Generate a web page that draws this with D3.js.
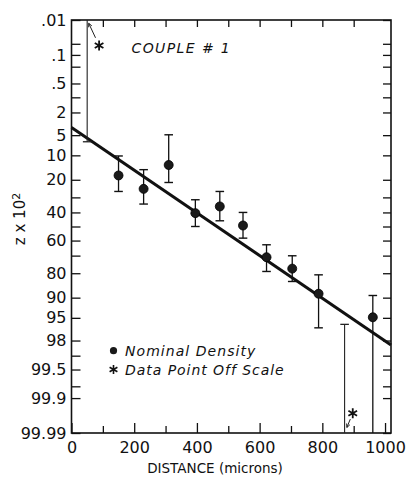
<!DOCTYPE html>
<html>
<head>
<meta charset="utf-8">
<script src="https://cdn.jsdelivr.net/npm/d3@7/dist/d3.min.js"></script>
<style>
  html, body { margin: 0; padding: 0; background: #fff; }
  svg { display: block; }
  text { font-family: "DejaVu Sans", sans-serif; fill: #111; }
</style>
</head>
<body>
<svg id="chart" width="407" height="477"></svg>
<script>
// ---------------- data ----------------
const distances   = [150, 230, 310, 395, 473, 547, 622, 704, 788, 961];
const nominalPct  = [17.9, 24.9, 13.4, 40.5, 35.9, 49.3, 71.0, 77.6, 88.7, 94.9];
const errTopPct   = [10.2, 15.3, 4.93, 31.5, 26.4, 40.0, 62.9, 70.1, 80.8, 89.3];
const errBotPct   = [26.4, 34.3, 21.4, 50.0, 45.9, 58.3, 79.1, 83.9, 96.6, 99.99];

const offDist     = [50, 871];
const offTopPct   = [0.01, 96.1];
const offBotPct   = [6.35, 99.99];
const offMarkDist = [88, 897];
const offMarkPct  = [0.0555, 99.9613];

const fitDist = [0, 1019];
const fitPct  = [3.72, 98.35];

const yTickValues = [0.01, 0.1, 0.5, 2, 5, 10, 20, 40, 60, 80, 90, 95, 98, 99.5, 99.9, 99.99];
const yTickLabels = [".01", ".1", ".5", "2", "5", "10", "20", "40", "60", "80", "90", "95", "98", "99.5", "99.9", "99.99"];
const yMinorTicks = [0.05, 0.2, 1, 30, 50, 70, 99, 99.8];

const xMajorTicks = [0, 200, 400, 600, 800, 1000];
const xMinorTicks = [100, 300, 500, 700, 900];
const xTopTicks   = [100, 200, 300, 400, 500, 600, 700, 800, 900];

// ---------------- probability scale ----------------
function probit(p) {
  const a=[-3.969683028665376e+01,2.209460984245205e+02,-2.759285104469687e+02,1.383577518672690e+02,-3.066479806614716e+01,2.506628277459239e+00];
  const b=[-5.447609879822406e+01,1.615858368580409e+02,-1.556989798598866e+02,6.680131188771972e+01,-1.328068155288572e+01];
  const c=[-7.784894002430293e-03,-3.223964580411365e-01,-2.400758277161838e+00,-2.549732539343734e+00,4.374664141464968e+00,2.938163982698783e+00];
  const d=[7.784695709041462e-03,3.224671290700398e-01,2.445134137142996e+00,3.754408661907416e+00];
  const plow = 0.02425, phigh = 1 - plow;
  if (p < plow) { const q = Math.sqrt(-2*Math.log(p)); return (((((c[0]*q+c[1])*q+c[2])*q+c[3])*q+c[4])*q+c[5])/((((d[0]*q+d[1])*q+d[2])*q+d[3])*q+1); }
  if (p <= phigh) { const q = p - 0.5, r = q*q; return (((((a[0]*r+a[1])*r+a[2])*r+a[3])*r+a[4])*r+a[5])*q/(((((b[0]*r+b[1])*r+b[2])*r+b[3])*r+b[4])*r+1); }
  const q = Math.sqrt(-2*Math.log(1-p)); return -(((((c[0]*q+c[1])*q+c[2])*q+c[3])*q+c[4])*q+c[5])/((((d[0]*q+d[1])*q+d[2])*q+d[3])*q+1);
}
const pz = pct => probit(pct / 100);

const M = { left: 71.5, right: 391, top: 20, bottom: 433 };
const x = d3.scaleLinear().domain([0, 1019]).range([M.left, M.right]);
const yz = d3.scaleLinear().domain([pz(0.01), pz(99.99)]).range([M.top, M.bottom]);
const y = pct => yz(pz(pct));

const svg = d3.select("#chart");
svg.append("rect").attr("width", 407).attr("height", 477).attr("fill", "#fff");

// ---------------- axes ----------------
function styleAxis(g, sw) {
  g.select(".domain").remove();
  g.selectAll(".tick line").attr("stroke", "#111").attr("stroke-width", sw);
}

const yFmt = d => { const i = yTickValues.findIndex(v => Math.abs(pz(v) - d) < 1e-9); return i >= 0 ? yTickLabels[i] : ""; };

const gL = svg.append("g").attr("transform", `translate(${M.left},0)`)
  .call(d3.axisLeft(yz).tickValues(yTickValues.map(pz)).tickFormat(yFmt).tickSizeInner(-9).tickSizeOuter(0).tickPadding(5));
styleAxis(gL, 1.3);
gL.selectAll(".tick text").style("font-size", "16px").attr("fill", "#111");

const gLm = svg.append("g").attr("transform", `translate(${M.left},0)`)
  .call(d3.axisLeft(yz).tickValues(yMinorTicks.map(pz)).tickFormat("").tickSizeInner(-9).tickSizeOuter(0));
styleAxis(gLm, 1.3);

const gR = svg.append("g").attr("transform", `translate(${M.right},0)`)
  .call(d3.axisRight(yz).tickValues(yTickValues.concat(yMinorTicks).map(pz)).tickFormat("").tickSizeInner(-8).tickSizeOuter(0));
styleAxis(gR, 1.3);

const gB = svg.append("g").attr("transform", `translate(0,${M.bottom})`)
  .call(d3.axisBottom(x).tickValues(xMajorTicks).tickFormat(d3.format("d")).tickSizeInner(-10).tickSizeOuter(0).tickPadding(8.5));
styleAxis(gB, 1.3);
gB.selectAll(".tick text").style("font-size", "16px").attr("fill", "#111");

const gBm = svg.append("g").attr("transform", `translate(0,${M.bottom})`)
  .call(d3.axisBottom(x).tickValues(xMinorTicks).tickFormat("").tickSizeInner(-7).tickSizeOuter(0));
styleAxis(gBm, 1.3);

const gT = svg.append("g").attr("transform", `translate(0,${M.top})`)
  .call(d3.axisTop(x).tickValues(xTopTicks).tickFormat("").tickSizeInner(-7).tickSizeOuter(0));
styleAxis(gT, 1.3);

// frame
svg.append("rect").attr("x", M.left).attr("y", M.top).attr("width", M.right - M.left).attr("height", M.bottom - M.top)
  .attr("fill", "none").attr("stroke", "#111").attr("stroke-width", 1.6);

// axis titles
svg.append("text").attr("x", 215).attr("y", 473).attr("text-anchor", "middle")
  .style("font-size", "13.5px").text("DISTANCE (microns)");

const yt = svg.append("text").attr("transform", "translate(24.5,219) rotate(-90)")
  .attr("text-anchor", "middle").style("font-size", "15px");
yt.append("tspan").text("z x 10");
yt.append("tspan").attr("dy", "-0.45em").style("font-size", "11px").text("2");

// ---------------- plot content ----------------
const plot = svg.append("g");
const cap = 4.3;

// fit line
plot.append("path")
  .datum(fitDist.map((d, i) => [d, fitPct[i]]))
  .attr("d", d3.line().x(d => x(d[0])).y(d => y(d[1])))
  .attr("fill", "none").attr("stroke", "#111").attr("stroke-width", 3);

// error bars
const bars = distances.map((d, i) => ({ d, t: errTopPct[i], b: errBotPct[i], v: nominalPct[i] }));
const eb = plot.selectAll(".eb").data(bars).join("g").attr("class", "eb");
eb.append("line").attr("x1", o => x(o.d)).attr("x2", o => x(o.d))
  .attr("y1", o => y(o.t)).attr("y2", o => y(o.b)).attr("stroke", "#111").attr("stroke-width", 1.3);
eb.append("line").attr("x1", o => x(o.d) - cap).attr("x2", o => x(o.d) + cap)
  .attr("y1", o => y(o.t)).attr("y2", o => y(o.t)).attr("stroke", "#111").attr("stroke-width", 1.4);
eb.filter(o => o.b < 99.99).append("line").attr("x1", o => x(o.d) - cap).attr("x2", o => x(o.d) + cap)
  .attr("y1", o => y(o.b)).attr("y2", o => y(o.b)).attr("stroke", "#111").attr("stroke-width", 1.4);

// points
plot.selectAll(".pt").data(bars).join("circle").attr("class", "pt")
  .attr("cx", o => x(o.d)).attr("cy", o => y(o.v)).attr("r", 4.5)
  .attr("fill", "#1a1a1a").attr("stroke", "#000").attr("stroke-width", 0.8);

// off-scale bars
const offs = offDist.map((d, i) => ({ d, t: offTopPct[i], b: offBotPct[i], md: offMarkDist[i], mp: offMarkPct[i] }));
const og = plot.selectAll(".off").data(offs).join("g").attr("class", "off");
og.append("line").attr("x1", o => x(o.d)).attr("x2", o => x(o.d))
  .attr("y1", o => y(o.t)).attr("y2", o => y(o.b)).attr("stroke", "#222").attr("stroke-width", 1.1);
og.append("line")
  .attr("x1", o => x(o.d) - cap).attr("x2", o => x(o.d) + cap)
  .attr("y1", o => o.t > 0.01 ? y(o.t) : y(o.b))
  .attr("y2", o => o.t > 0.01 ? y(o.t) : y(o.b))
  .attr("stroke", "#222").attr("stroke-width", 1.3);

// asterisk path
function asteriskPath(cx, cy, r) {
  let p = "";
  [90, 30, 150].forEach(a => {
    const t = a * Math.PI / 180, dx = Math.cos(t) * r, dy = Math.sin(t) * r;
    p += `M${cx - dx},${cy - dy}L${cx + dx},${cy + dy}`;
  });
  return p;
}
og.append("path").attr("d", o => asteriskPath(x(o.md), y(o.mp), 5))
  .attr("stroke", "#111").attr("stroke-width", 1.8).attr("fill", "none");

// arrows from asterisk to bar end
og.each(function(o) {
  const g = d3.select(this);
  const sx = x(o.md), sy = y(o.mp);
  const atTop = o.t <= 0.01;
  const ex = x(o.d), ey = atTop ? y(o.t) : y(o.b);
  const t0 = 0.3, t1 = atTop ? 0.87 : 0.72;
  const ax = sx + (ex - sx) * t0, ay = sy + (ey - sy) * t0;
  const bx = sx + (ex - sx) * t1, by = sy + (ey - sy) * t1;
  g.append("line").attr("x1", ax).attr("y1", ay).attr("x2", bx).attr("y2", by)
    .attr("stroke", "#222").attr("stroke-width", 1);
  const ang = Math.atan2(by - ay, bx - ax), h = 4;
  const p1 = [bx - h * Math.cos(ang - 0.45), by - h * Math.sin(ang - 0.45)];
  const p2 = [bx - h * Math.cos(ang + 0.45), by - h * Math.sin(ang + 0.45)];
  g.append("path").attr("d", `M${p1[0]},${p1[1]}L${bx},${by}L${p2[0]},${p2[1]}`)
    .attr("stroke", "#222").attr("stroke-width", 1).attr("fill", "none");
});

// ---------------- annotations ----------------
svg.append("text").attr("x", 131.5).attr("y", 53).style("font-size", "14px").style("font-style", "italic")
  .style("letter-spacing", "1.4px").text("COUPLE # 1");

svg.append("circle").attr("cx", 113.5).attr("cy", 350.7).attr("r", 3.6).attr("fill", "#1a1a1a");
svg.append("text").attr("x", 125).attr("y", 356).style("font-size", "14px").style("font-style", "italic")
  .style("letter-spacing", "1.05px").text("Nominal Density");
svg.append("path").attr("d", asteriskPath(113.5, 369.5, 4.5)).attr("stroke", "#111").attr("stroke-width", 1.6);
svg.append("text").attr("x", 125).attr("y", 374.5).style("font-size", "14px").style("font-style", "italic")
  .style("letter-spacing", "0.95px").text("Data Point Off Scale");
</script>
</body>
</html>
